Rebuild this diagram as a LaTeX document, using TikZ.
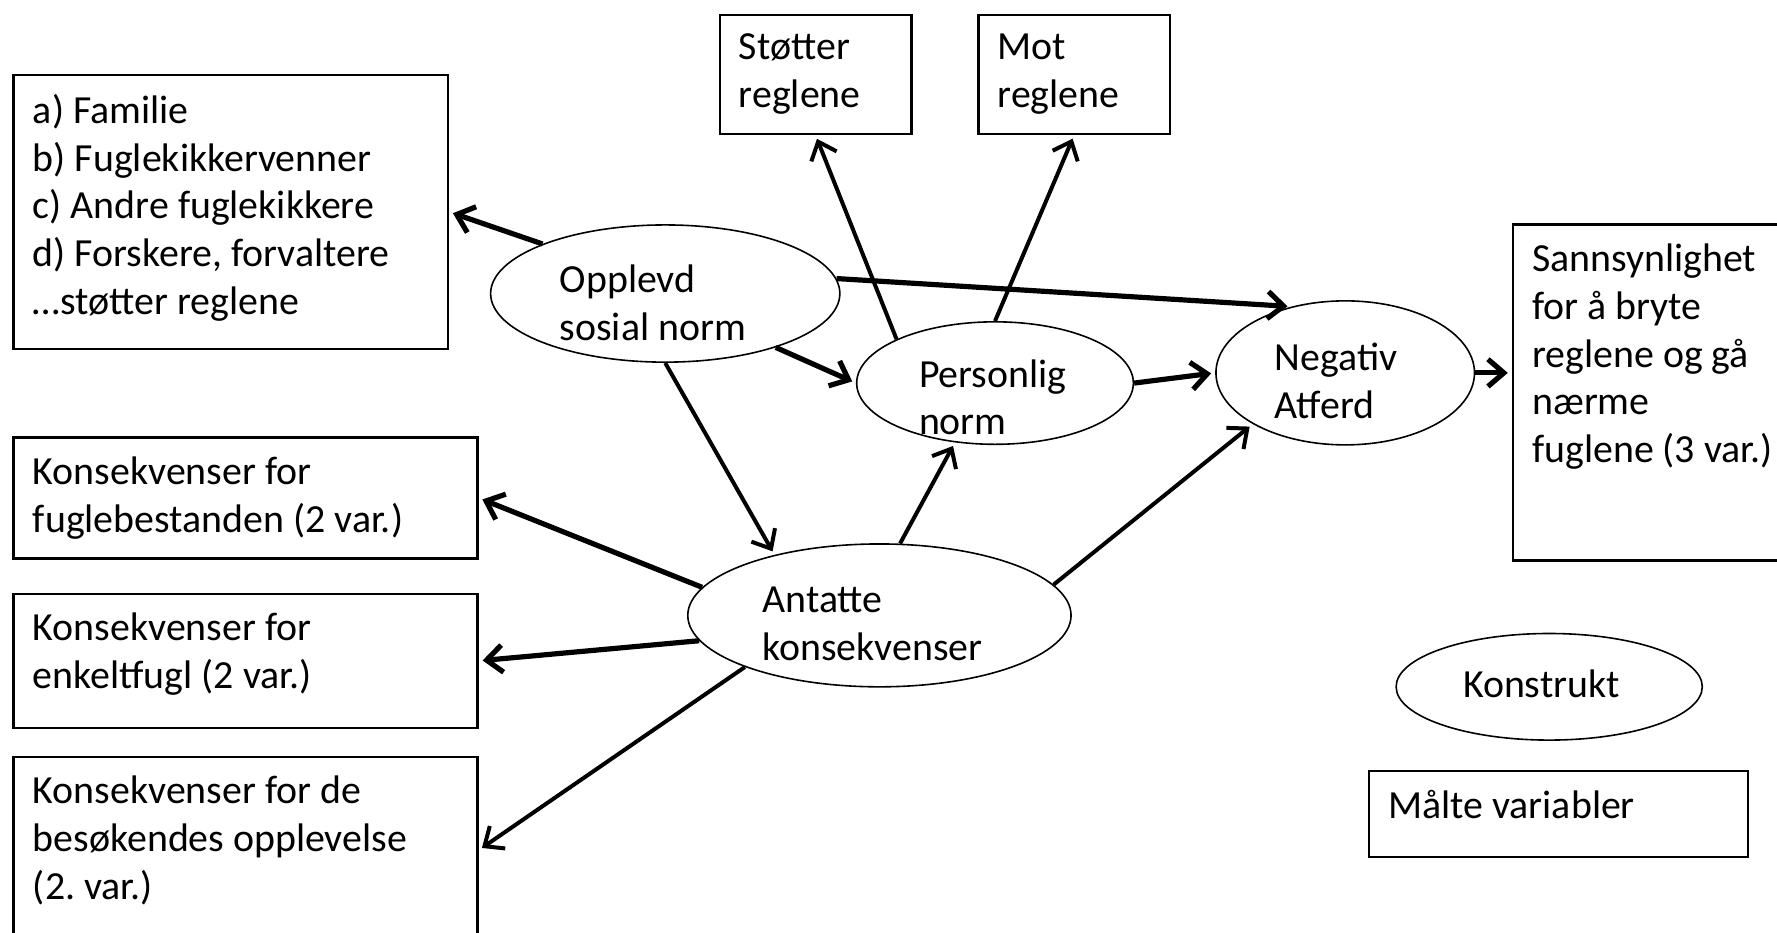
\documentclass[tikz,border=0pt]{standalone}
\usepackage{fontspec}
\setmainfont{Carlito}
\frenchspacing
\usetikzlibrary{arrows.meta,positioning,shapes.geometric}

\begin{document}
\begin{tikzpicture}[x=0.01cm, y=-0.01cm, ->, >={Straight Barb[length=1.4mm,width=2.4mm]}, shorten >=1pt, line width=1pt,
    konstrukt/.style={ellipse, draw, line width=0.4pt, inner sep=0pt, align=flush left, text height=0.3cm, font=\fontsize{10pt}{12pt}\selectfont},
    maalt/.style={rectangle, draw, line width=0.6pt, anchor=north west, align=flush left, inner sep=0.17cm, font=\fontsize{10pt}{12pt}\selectfont},
    tykk/.style={line width=1.3pt}]
    \clip (0,0) rectangle (1568,823);

    % konstrukter
    \node[konstrukt, minimum width=3.08cm, minimum height=1.21cm, text width=1.86cm, text depth=0.32cm] (opplevd) at (587,259) {Opplevd\\sosial norm};
    \node[konstrukt, minimum width=2.44cm, minimum height=1.08cm, text width=1.34cm, text depth=0.23cm] (personlig) at (878,338) {Personlig\\norm};
    \node[konstrukt, minimum width=2.28cm, minimum height=1.27cm, text width=1.24cm, text depth=0.34cm] (negativ) at (1187,329) {Negativ\\Atferd};
    \node[konstrukt, minimum width=3.38cm, minimum height=1.26cm, text width=2.06cm, text depth=0.35cm] (antatte) at (776,543) {Antatte\\konsekvenser};

    % maalte variabler
    \node[maalt, text width=3.49cm, text depth=1.82cm] (familie) at (11,65) {a) Familie\\b) Fuglekikkervenner\\c) Andre fuglekikkere\\d) Forskere, forvaltere\\…støtter reglene};
    \node[maalt, text width=1.35cm] (stoetter) at (634,12) {Støtter\\reglene};
    \node[maalt, text width=1.35cm, right=0.57cm of stoetter] (mot) {Mot\\reglene};
    \node[maalt, text width=2.3cm, text depth=2.38cm] (sannsynlighet) at (1334,197) {Sannsynlighet\\for å bryte\\reglene og gå\\nærme\\fuglene (3 var.)};
    \node[maalt, text width=3.75cm] (fugle) at (11,385) {Konsekvenser for\\fuglebestanden (2 var.)};
    \node[maalt, text width=3.75cm, text depth=0.6cm, below=0.29cm of fugle] (enkelt) {Konsekvenser for\\enkeltfugl (2 var.)};
    \node[maalt, text width=3.75cm, text depth=1.06cm, below=0.235cm of enkelt] (besoek) {Konsekvenser for de\\besøkendes opplevelse\\(2. var.)};

    % forklaring
    \node[konstrukt, minimum width=2.7cm, minimum height=0.94cm, text width=1.52cm, text depth=0.11cm] (konstruktforklaring) at (1367,606) {Konstrukt};
    \node[maalt, text width=3.0cm, text depth=0.17cm] (maaltforklaring) at (1207,679) {Målte variabler};

    \path
        (opplevd.158) edge[tykk] (familie.east)
        (opplevd.5) edge[tykk] (negativ.129)
        (opplevd.-26) edge[tykk] (personlig.west)
        (opplevd.south) edge (antatte.150)
        (personlig.156) edge (stoetter.south)
        (personlig.north) edge (mot.south)
        (personlig.east) edge[tykk] (negativ.west)
        (negativ.east) edge[tykk] (negativ.east -| sannsynlighet.west)
        (antatte.74) edge (personlig.236)
        (antatte.10) edge (negativ.209)
        (antatte.171) edge[tykk] (fugle.east)
        (antatte.188) edge[tykk] (enkelt.east)
        (antatte.201) edge (besoek.east);
\end{tikzpicture}
\end{document}
